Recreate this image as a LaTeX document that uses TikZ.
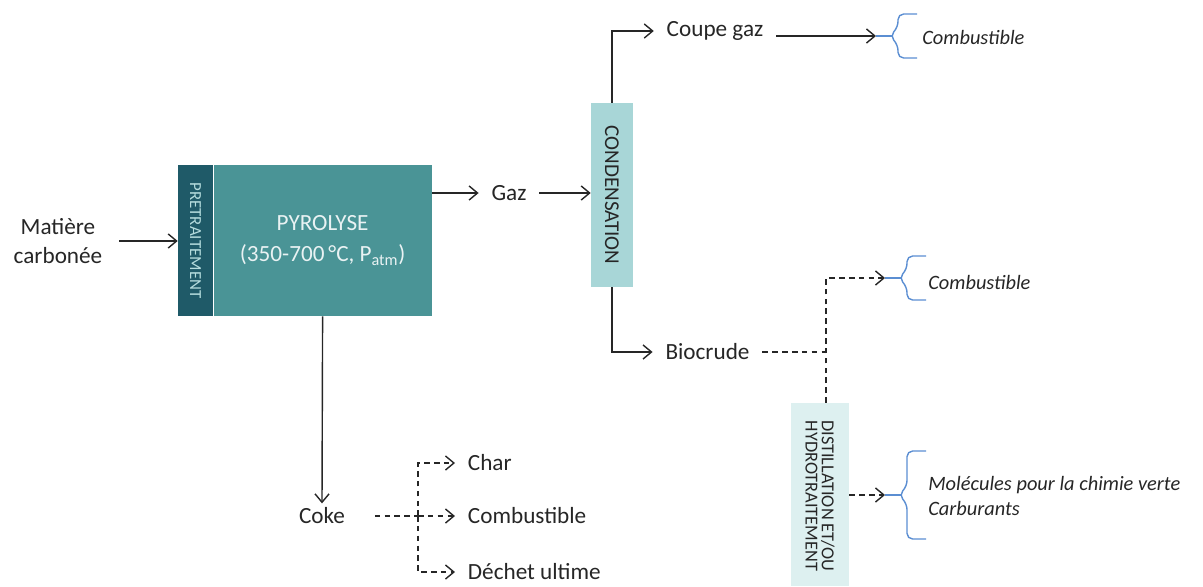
\documentclass[tikz,border=0pt]{standalone}
\usepackage{fontspec}
\setmainfont{Carlito}
\usetikzlibrary{arrows.meta, positioning, calc}
\definecolor{pyroteal}{HTML}{4A9496}
\definecolor{pretdark}{HTML}{1F5A68}
\definecolor{condteal}{HTML}{A8D6D7}
\definecolor{distpale}{HTML}{DDF0F0}
\definecolor{braceblue}{HTML}{5B8ED2}
\tikzset{
    lbl/.style={font=\fontsize{16.5}{20}\selectfont, text=black!85, inner xsep=9pt, inner ysep=3pt},
    outlbl/.style={font=\fontsize{14.5}{17.8}\selectfont\itshape, text=black!85, align=left, anchor=west, inner sep=0pt},
    procbox/.style={rectangle, draw=none, inner sep=0pt},
    vlabel/.style={rotate=-90, align=center, inner sep=0pt},
    arrow/.style={-{Straight Barb[length=6pt,width=10pt]}, line width=1pt, draw=black!85},
    dashedarrow/.style={arrow, dash pattern=on 4pt off 3pt},
    dashedline/.style={line width=1pt, draw=black!85, dash pattern=on 4pt off 3pt},
    bracket/.style={draw=braceblue, line width=1pt, rounded corners=4pt}
}
% curly bracket opening to the right, tip at #1, half height #2
\newcommand{\outbrace}[2]{%
    \draw[bracket] (#1) -- ++(16,0);
    \draw[bracket] ($(#1)+(41,-#2)$) -- ++(-19,0) -- ++(0,#2-9) -- ++(-8,9) -- ++(8,9) -- ++(0,#2-9) -- ++(19,0);
}

\begin{document}
\begin{tikzpicture}[x=0.025cm, y=-0.025cm]
    \useasboundingbox (0,0) rectangle (1203,586);
    % process blocks
    \node[procbox, fill=pretdark, minimum width=0.875cm, minimum height=3.775cm] (pret) at (195.5,240.5) {};
    \node[procbox, fill=pyroteal, minimum width=5.45cm, minimum height=3.775cm, anchor=west] (pyro) at (pret.east) {};
    \node[procbox, fill=condteal, minimum width=1.05cm, minimum height=4.6cm] (cond) at (612,195) {};
    \node[procbox, fill=distpale, minimum width=1.45cm, minimum height=4.575cm] (dist) at (820,494.5) {};
    \node[vlabel, font=\fontsize{12}{14}\selectfont, text=condteal!85] (pretlbl) at (pret.center) {PRETRAITEMENT};
    \node[align=center, text=white!88!pyroteal, font=\fontsize{16.5}{22}\selectfont] (pyrolbl) at (pyro.center) {PYROLYSE\\(350-700\,°C, P\textsubscript{atm})};
    \node[vlabel, font=\fontsize{15}{18}\selectfont, text=black!85] (condlbl) at (cond.center) {CONDENSATION};
    \node[vlabel, font=\fontsize{13}{11.5}\selectfont, text=black!85] (distlbl) at (820,496) {DISTILLATION ET/OU\\HYDROTRAITEMENT};

    % streams
    \node[lbl, align=center, inner xsep=12pt] (feed) at (58,241) {Matière\\carbonée};
    \node[lbl] (gaz) at (509,193) {Gaz};
    \node[lbl] (coupe) at (715,31) {Coupe gaz};
    \node[lbl] (bio) at (707.5,352) {Biocrude};
    \node[lbl] (coke) at (322,516) {Coke};
    \node[lbl, anchor=west] (char) at (455,463) {Char};
    \node[lbl, anchor=west] (cokefuel) at (455,516) {Combustible};
    \node[lbl, anchor=west] (waste) at (455,572) {Déchet ultime};

    % uses
    \coordinate (gasout) at (876,36);
    \coordinate (oilout) at (885,278);
    \coordinate (upgout) at (885,495);
    \node[outlbl] (gasfuel) at (922,37) {Combustible};
    \node[outlbl] (oilfuel) at (928,282) {Combustible};
    \node[outlbl] (chem) at (928,496) {Molécules pour la chimie verte\\Carburants};
    \outbrace{gasout}{22}
    \outbrace{oilout}{22}
    \outbrace{upgout}{44}

    % connectors
    \draw[arrow] (feed.east) -- (feed.east -| pret.west);
    \draw[arrow] (pyro.east |- gaz.west) -- (gaz.west);
    \draw[arrow] (gaz.east) -- (gaz.east -| cond.west);
    \draw[arrow] (cond.north) |- (coupe.west);
    \draw[arrow] (cond.south) |- (bio.west);
    \draw[arrow] (coupe.east |- gasout) -- (gasout);
    \draw[arrow] (pyro.south) -- (coke.north);

    \coordinate (oilsplit) at (826,352);
    \draw[dashedline] (bio.east) -- (oilsplit);
    \draw[dashedarrow] (dist.north -| oilsplit) |- (oilout);
    \draw[dashedarrow] (dist.east |- upgout) -- (upgout);

    \coordinate (cokesplit) at (418,516);
    \draw[dashedline, shorten <=12pt] (coke.east) -- (cokesplit);
    \draw[dashedarrow] (cokesplit) |- (char.west);
    \draw[dashedarrow] (cokesplit) -- (cokefuel.west);
    \draw[dashedarrow] (cokesplit) |- (waste.west);
\end{tikzpicture}
\end{document}
